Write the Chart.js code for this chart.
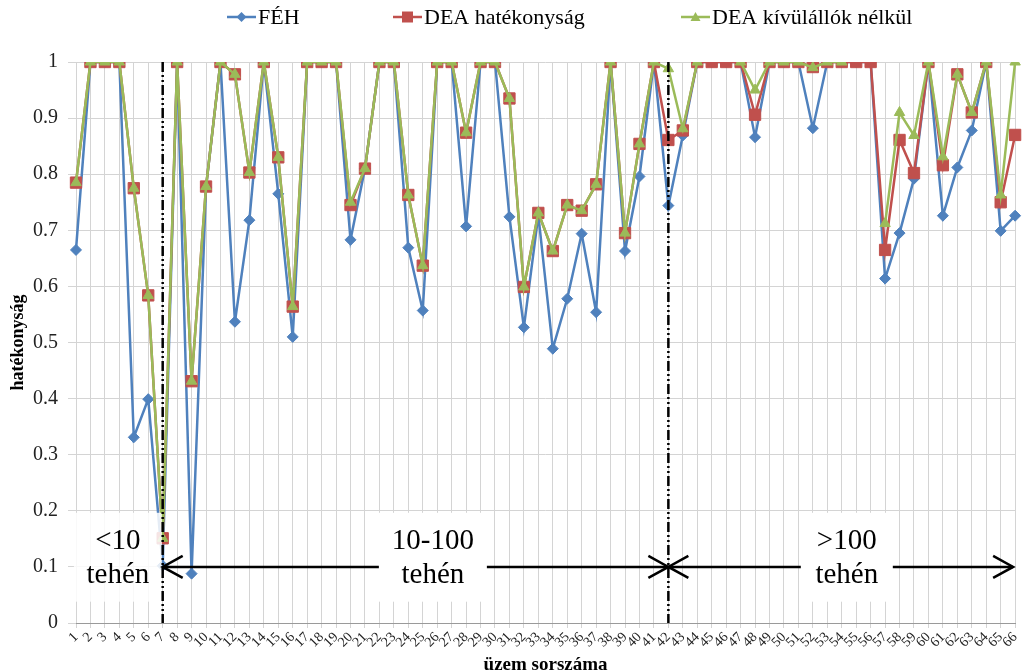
<!DOCTYPE html>
<html>
<head>
<meta charset="utf-8">
<script src="https://cdn.jsdelivr.net/npm/chart.js@4.4.1/dist/chart.umd.min.js"></script>
<style>
  html, body { margin: 0; padding: 0; background: #fff; }
  canvas { display: block; }
</style>
</head>
<body>
<canvas id="chart" width="1028" height="672"></canvas>
<script>
const SERIF = '"Liberation Serif", "Times New Roman", serif';

// üzem sorszáma
const categories = ['1','2','3','4','5','6','7','8','9','10','11','12','13','14','15','16','17','18','19','20',
  '21','22','23','24','25','26','27','28','29','30','31','32','33','34','35','36','37','38','39','40',
  '41','42','43','44','45','46','47','48','49','50','51','52','53','54','55','56','57','58','59','60',
  '61','62','63','64','65','66'];

const seriesNames = ['FÉH', 'DEA hatékonyság', 'DEA kívülállók nélkül'];

const feh = [0.665, 1, 1, 1, 0.331, 0.399, 0.102, 1, 0.088, 0.777,
  1, 0.537, 0.718, 1, 0.765, 0.51, 1, 1, 1, 0.683,
  0.81, 1, 1, 0.669, 0.557, 1, 1, 0.707, 1, 1,
  0.724, 0.527, 0.727, 0.489, 0.578, 0.694, 0.554, 1, 0.663, 0.796,
  1, 0.744, 0.869, 1, 1, 1, 1, 0.866, 1, 1,
  1, 0.882, 1, 1, 1, 1, 0.614, 0.695, 0.792, 1,
  0.726, 0.812, 0.878, 1, 0.699, 0.726];

const deaHat = [0.785, 1, 1, 1, 0.775, 0.584, 0.151, 1, 0.431, 0.778,
  1, 0.978, 0.803, 1, 0.83, 0.564, 1, 1, 1, 0.745,
  0.81, 1, 1, 0.763, 0.637, 1, 1, 0.874, 1, 1,
  0.935, 0.599, 0.731, 0.663, 0.745, 0.735, 0.782, 1, 0.695, 0.854,
  1, 0.861, 0.878, 1, 1, 1, 1, 0.906, 1, 1,
  1, 0.991, 1, 1, 1, 1, 0.665, 0.861, 0.802, 1,
  0.816, 0.978, 0.91, 1, 0.75, 0.87];

const deaNelkul = [0.785, 1, 1, 1, 0.775, 0.584, 0.151, 1, 0.431, 0.778,
  1, 0.978, 0.803, 1, 0.83, 0.564, 1, 1, 1, 0.75,
  0.81, 1, 1, 0.763, 0.637, 1, 1, 0.874, 1, 1,
  0.935, 0.599, 0.731, 0.663, 0.745, 0.735, 0.782, 1, 0.695, 0.854,
  1, 0.988, 0.881, 1, null, null, 1, 0.95, 1, 1,
  1, 0.99, 1, 1, null, null, 0.712, 0.91, 0.869, 1,
  0.831, 0.978, 0.91, 1, 0.763, 1];

// állomány-méret csoportok
const groupNames = ['<10', '10-100', '>100'];
const groupUnit = 'tehén';
const groupBreaks = ['7', '42'];
const arrowLevel = 0.1;

const colors = ['#4F81BD', '#C0504D', '#9BBB59'];
const styles = ['rectRot', 'rect', 'triangle'];

function drawMarker(ctx, style, x, y, color) {
  ctx.save();
  ctx.fillStyle = color;
  ctx.beginPath();
  if (style === 'rectRot') {
    ctx.moveTo(x, y - 5); ctx.lineTo(x + 5, y); ctx.lineTo(x, y + 5); ctx.lineTo(x - 5, y);
  } else if (style === 'rect') {
    ctx.rect(x - 5.5, y - 5.5, 11, 11);
  } else {
    ctx.moveTo(x, y - 5); ctx.lineTo(x + 5, y + 4); ctx.lineTo(x - 5, y + 4);
  }
  ctx.closePath();
  ctx.fill();
  ctx.restore();
}

const legendPlugin = {
  id: 'lineLegend',
  afterDraw(chart) {
    const ctx = chart.ctx;
    const starts = [227, 393, 681];
    const y = 17;
    ctx.save();
    chart.data.datasets.forEach((ds, i) => {
      const x0 = starts[i];
      ctx.strokeStyle = ds.borderColor;
      ctx.lineWidth = 2.5;
      ctx.beginPath();
      ctx.moveTo(x0, y);
      ctx.lineTo(x0 + 29, y);
      ctx.stroke();
      drawMarker(ctx, styles[i], x0 + 14.5, y, ds.borderColor);
      ctx.fillStyle = '#000';
      ctx.font = '22px ' + SERIF;
      ctx.textAlign = 'left';
      ctx.textBaseline = 'middle';
      ctx.fillText(ds.label, x0 + 31, y + 1);
    });
    ctx.restore();
  }
};

function arrowHead(ctx, x, y, dir) {
  ctx.beginPath();
  ctx.moveTo(x - dir * 20, y - 11);
  ctx.lineTo(x, y);
  ctx.lineTo(x - dir * 20, y + 11);
  ctx.stroke();
}

const groupPlugin = {
  id: 'groups',
  afterDatasetsDraw(chart) {
    const { ctx, scales: { x, y } } = chart;
    const xa = x.getPixelForValue(categories.indexOf(groupBreaks[0]));
    const xb = x.getPixelForValue(categories.indexOf(groupBreaks[1]));
    const xEnd = x.getPixelForValue(categories.length - 1) - 2;
    const ya = y.getPixelForValue(arrowLevel);
    const boxTop = y.getPixelForValue(0.2) + 2;
    const boxBottom = y.getPixelForValue(0.038);
    const centers = [2.9, 24.7, 53.35];
    const widths = [88, 108, 92];

    ctx.save();
    // first box is semi-transparent over the lines
    let bx = x.getPixelForValue(centers[0]);
    ctx.fillStyle = 'rgba(255,255,255,0.85)';
    ctx.fillRect(bx - widths[0] / 2, boxTop, widths[0], boxBottom - boxTop);

    ctx.strokeStyle = '#000';
    ctx.lineWidth = 2.5;
    ctx.beginPath();
    ctx.moveTo(xa, ya); ctx.lineTo(xb, ya);
    ctx.moveTo(xb, ya); ctx.lineTo(xEnd, ya);
    ctx.stroke();

    ctx.fillStyle = '#fff';
    for (let i = 1; i < 3; i++) {
      bx = x.getPixelForValue(centers[i]);
      ctx.fillRect(bx - widths[i] / 2, boxTop, widths[i], boxBottom - boxTop);
    }

    ctx.lineWidth = 2.5;
    arrowHead(ctx, xa, ya, -1);
    arrowHead(ctx, xb, ya, 1);
    arrowHead(ctx, xb, ya, -1);
    arrowHead(ctx, xEnd, ya, 1);

    // dash-dot separators
    ctx.setLineDash([10, 3, 2, 3, 2, 3]);
    ctx.lineWidth = 2.5;
    [xa, xb].forEach(px => {
      ctx.beginPath();
      ctx.moveTo(px, y.getPixelForValue(1));
      ctx.lineTo(px, y.getPixelForValue(0));
      ctx.stroke();
    });
    ctx.setLineDash([]);

    ctx.fillStyle = '#000';
    ctx.font = '29px ' + SERIF;
    ctx.textAlign = 'center';
    ctx.textBaseline = 'middle';
    groupNames.forEach((name, i) => {
      const cx = x.getPixelForValue(centers[i]);
      ctx.fillText(name, cx, y.getPixelForValue(0.145));
      ctx.fillText(groupUnit, cx, y.getPixelForValue(0.085));
    });
    ctx.restore();
  }
};

function makeSet(label, data, i, order) {
  return {
    label: label,
    data: data,
    borderColor: colors[i],
    backgroundColor: colors[i],
    borderWidth: 2.5,
    pointStyle: styles[i],
    pointRadius: i === 1 ? 8 : (i === 0 ? 5.5 : 6),
    pointBorderWidth: 1,
    pointBackgroundColor: colors[i],
    pointBorderColor: colors[i],
    tension: 0,
    spanGaps: false,
    order: order
  };
}

new Chart(document.getElementById('chart'), {
  type: 'line',
  data: {
    labels: categories,
    datasets: [
      makeSet(seriesNames[0], feh, 0, 3),
      makeSet(seriesNames[1], deaHat, 1, 2),
      makeSet(seriesNames[2], deaNelkul, 2, 1)
    ]
  },
  options: {
    responsive: false,
    animation: false,
    layout: { padding: { top: 62, right: 9, bottom: 0, left: 0 } },
    plugins: {
      legend: { display: false },
      tooltip: { enabled: false }
    },
    scales: {
      x: {
        offset: false,
        grid: { color: '#d4d4d4', lineWidth: 1, tickLength: 5 },
        border: { color: '#9a9a9a' },
        ticks: {
          autoSkip: false,
          minRotation: 45,
          maxRotation: 45,
          padding: 1,
          color: '#222',
          font: { family: SERIF, size: 14 }
        },
        title: {
          display: true,
          text: 'üzem sorszáma',
          color: '#000',
          font: { family: SERIF, size: 19, weight: 'bold', lineHeight: 1 },
          padding: { top: 0, bottom: -3 }
        },
        afterFit(scale) { scale.height = 49; }
      },
      y: {
        min: 0,
        max: 1,
        grid: { color: '#d4d4d4', lineWidth: 1, tickLength: 8 },
        border: { display: false },
        ticks: {
          stepSize: 0.1,
          padding: 10,
          color: '#222',
          font: { family: SERIF, size: 20 },
          callback: v => String(Math.round(v * 10) / 10)
        },
        title: {
          display: true,
          text: 'hatékonyság',
          color: '#000',
          font: { family: SERIF, size: 18, weight: 'bold', lineHeight: 1.2 },
          padding: { top: 8, bottom: 0 }
        },
        afterFit(scale) { scale.width = 76; }
      }
    }
  },
  plugins: [groupPlugin, legendPlugin]
});
</script>
</body>
</html>
